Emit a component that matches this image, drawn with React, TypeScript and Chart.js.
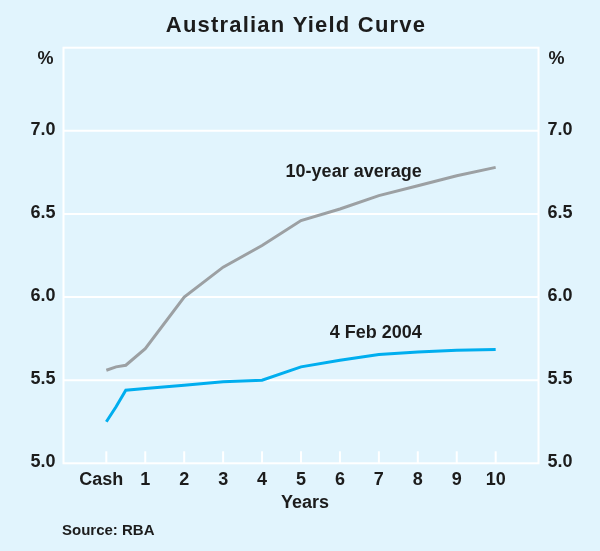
import React, { useEffect, useRef } from "react";
import { Chart, registerables } from "chart.js";

Chart.register(...registerables);

const maturities = [0, 0.25, 0.5, 1, 2, 3, 4, 5, 6, 7, 8, 9, 10];
const avg10 = [5.56, 5.58, 5.59, 5.69, 6.0, 6.18, 6.31, 6.46, 6.53, 6.61, 6.67, 6.73, 6.78];
const feb2004 = [5.25, 5.34, 5.44, 5.45, 5.47, 5.49, 5.5, 5.58, 5.62, 5.655, 5.67, 5.68, 5.685];
const xTickValues = [0, 1, 2, 3, 4, 5, 6, 7, 8, 9, 10];
const xTickLabels = ["Cash", "1", "2", "3", "4", "5", "6", "7", "8", "9", "10"];
const yTickValues = [5.0, 5.5, 6.0, 6.5, 7.0];
const yGridValues = [5.5, 6.0, 6.5, 7.0];

const BG = "#e1f4fd";
const GREY = "#9ca0a3";
const BLUE = "#00aeef";
const TEXT = "#1c1c1c";
const FONT = "'Liberation Sans', Arial, sans-serif";

const decorPlugin = {
  id: "decor",
  beforeDatasetsDraw(chart: any) {
    const { ctx, chartArea, scales } = chart;
    const { left, right, top, bottom } = chartArea;
    ctx.save();
    ctx.strokeStyle = "#ffffff";
    ctx.lineWidth = 2;
    for (const v of yGridValues) {
      const y = scales.y.getPixelForValue(v);
      ctx.beginPath();
      ctx.moveTo(left, y);
      ctx.lineTo(right, y);
      ctx.stroke();
    }
    for (const v of xTickValues) {
      const x = scales.x.getPixelForValue(v);
      ctx.beginPath();
      ctx.moveTo(x, bottom);
      ctx.lineTo(x, bottom - 12);
      ctx.stroke();
    }
    ctx.strokeRect(left, top, right - left, bottom - top);
    ctx.restore();
  },
  afterDraw(chart: any) {
    const { ctx, chartArea, scales } = chart;
    const { left, right, top, bottom } = chartArea;
    ctx.save();
    ctx.fillStyle = TEXT;

    // Title
    ctx.font = `bold 22px ${FONT}`;
    (ctx as any).letterSpacing = "1.2px";
    ctx.textAlign = "center";
    ctx.textBaseline = "alphabetic";
    ctx.fillText("Australian Yield Curve", 296, 32);
    (ctx as any).letterSpacing = "0px";

    // Y tick labels both sides
    ctx.font = `bold 18px ${FONT}`;
    ctx.textBaseline = "middle";
    for (const v of yTickValues) {
      const y = scales.y.getPixelForValue(v) - 1;
      ctx.textAlign = "right";
      ctx.fillText(v.toFixed(1), left - 8, y);
      ctx.textAlign = "left";
      ctx.fillText(v.toFixed(1), right + 9, y);
    }
    ctx.textAlign = "right";
    ctx.fillText("%", left - 10, top + 11);
    ctx.textAlign = "left";
    ctx.fillText("%", right + 10, top + 11);

    // X tick labels
    ctx.textAlign = "center";
    ctx.textBaseline = "alphabetic";
    xTickValues.forEach((v, i) => {
      const x = scales.x.getPixelForValue(v);
      ctx.fillText(xTickLabels[i], i === 0 ? x - 5 : x, bottom + 22);
    });
    ctx.fillText("Years", 305, bottom + 45);

    // Series labels
    ctx.textAlign = "right";
    ctx.fillText("10-year average", scales.x.getPixelForValue(8.1), scales.y.getPixelForValue(6.724));
    ctx.fillText("4 Feb 2004", scales.x.getPixelForValue(8.1), scales.y.getPixelForValue(5.754));

    // Source
    ctx.font = `bold 15px ${FONT}`;
    ctx.textAlign = "left";
    ctx.fillText("Source: RBA", 62, 535);
    ctx.restore();
  },
};

export default function App() {
  const canvasRef = useRef<HTMLCanvasElement | null>(null);

  useEffect(() => {
    if (!canvasRef.current) return;
    const chart = new Chart(canvasRef.current, {
      type: "line",
      data: {
        datasets: [
          {
            label: "10-year average",
            data: maturities.map((m, i) => ({ x: m, y: avg10[i] })),
            borderColor: GREY,
            borderWidth: 3,
            pointRadius: 0,
            tension: 0,
          },
          {
            label: "4 Feb 2004",
            data: maturities.map((m, i) => ({ x: m, y: feb2004[i] })),
            borderColor: BLUE,
            borderWidth: 3,
            pointRadius: 0,
            tension: 0,
          },
        ],
      },
      options: {
        responsive: false,
        animation: false,
        devicePixelRatio: 1,
        layout: { padding: { left: 63.5, right: 61.5, top: 47.7, bottom: 87.7 } },
        plugins: { legend: { display: false }, tooltip: { enabled: false }, title: { display: false } },
        scales: {
          x: { type: "linear", min: -1.1, max: 11.1, display: false },
          y: { type: "linear", min: 5.0, max: 7.5, display: false },
        },
      },
      plugins: [decorPlugin],
    });
    return () => chart.destroy();
  }, []);

  return (
    <div style={{ position: "absolute", left: 0, top: 0, width: 600, height: 551, background: BG }}>
      <canvas ref={canvasRef} width={600} height={551} style={{ display: "block", width: 600, height: 551 }} />
    </div>
  );
}
